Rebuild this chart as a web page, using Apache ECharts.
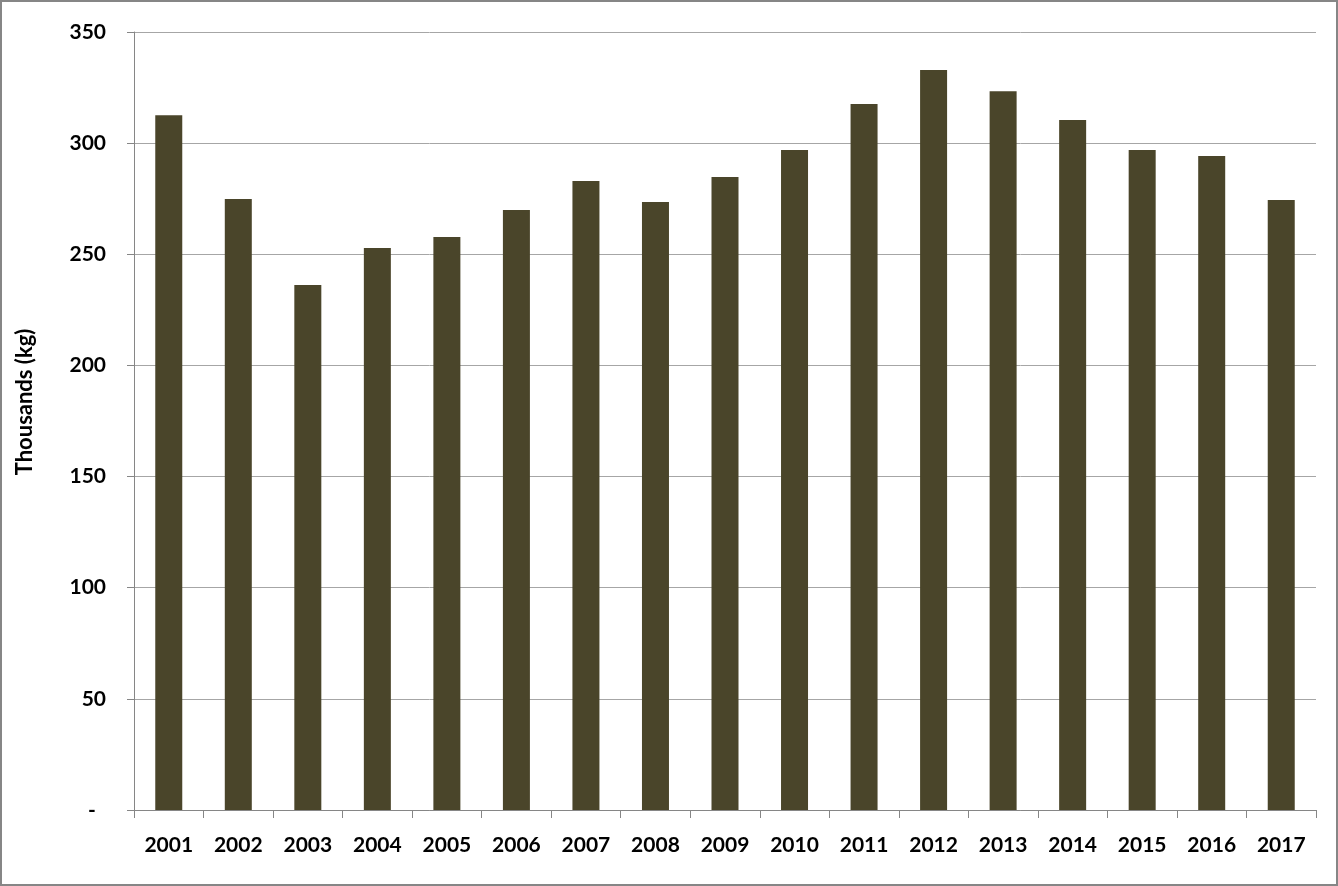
<!DOCTYPE html>
<html>
<head>
<meta charset="utf-8">
<script src="https://cdn.jsdelivr.net/npm/echarts@6/dist/echarts.min.js"></script>
<style>
html,body{margin:0;padding:0;background:#fff;}
#chart{width:1338px;height:886px;}
</style>
</head>
<body>
<div id="chart"></div>
<script>
const years = ['2001','2002','2003','2004','2005','2006','2007','2008','2009','2010','2011','2012','2013','2014','2015','2016','2017'];
const values = [312.6, 274.9, 236.2, 252.8, 257.8, 269.9, 283.0, 273.5, 284.8, 296.9, 317.6, 332.9, 323.4, 310.4, 296.9, 294.2, 274.4];
const yAxisTitle = 'Thousands (kg)';

const chart = echarts.init(document.getElementById('chart'));
chart.setOption({
  animation: false,
  backgroundColor: '#ffffff',
  graphic: [{
    type: 'rect',
    shape: {x: 1, y: 1, width: 1336, height: 884},
    style: {fill: 'none', stroke: '#868686', lineWidth: 2},
    silent: true
  }, {
    type: 'text',
    x: 25, y: 402,
    rotation: Math.PI / 2,
    style: {
      text: yAxisTitle, fill: '#000', fontFamily: 'Lato', fontWeight: 'bold', fontSize: 22,
      align: 'center', verticalAlign: 'middle'
    },
    silent: true
  }],
  grid: {left: 134, right: 22, top: 32, bottom: 76, containLabel: false},
  xAxis: {
    type: 'category',
    data: years,
    boundaryGap: true,
    axisLine: {lineStyle: {color: '#868686', width: 1}},
    axisTick: {show: true, length: 8, alignWithLabel: false, lineStyle: {color: '#868686'}},
    axisLabel: {color: '#000', fontFamily: 'Lato', fontWeight: 'bold', fontSize: 21, margin: 25, interval: 0}
  },
  yAxis: {
    type: 'value',
    min: 0, max: 350, interval: 50,
    axisLine: {show: true, lineStyle: {color: '#868686', width: 1}},
    axisTick: {show: true, length: 7, lineStyle: {color: '#868686'}},
    splitLine: {lineStyle: {color: '#a6a6a6', width: 1}},
    axisLabel: {
      color: '#000', fontFamily: 'Lato', fontWeight: 'bold', fontSize: 21, margin: 28,
      formatter: v => v === 0 ? '-  ' : String(v)
    }
  },
  series: [{
    type: 'bar',
    data: values,
    barWidth: 27,
    itemStyle: {color: '#4a452a'}
  }]
});
</script>
</body>
</html>
